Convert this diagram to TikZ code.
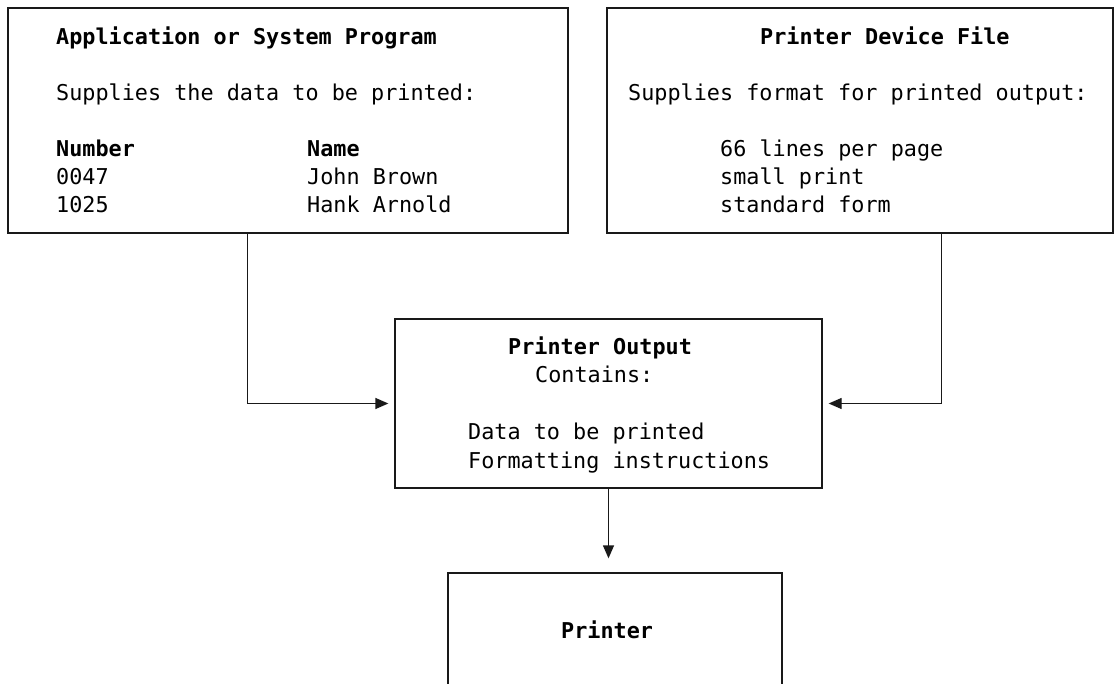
\documentclass[tikz,border=0pt]{standalone}
\usepackage{fontspec}
\setmonofont{DejaVu Sans Mono}
\usetikzlibrary{arrows.meta}

\tikzset{
  box/.style={draw=black!90, line width=1.3pt, inner sep=0pt},
  line/.style={anchor=base west, inner sep=0pt, font=\ttfamily\fontsize{21.8}{28}\selectfont},
  head/.style={line, font=\ttfamily\bfseries\fontsize{21.8}{28}\selectfont},
  flow/.style={draw=black!90, line width=1.3pt, -{Triangle[length=13pt,width=11pt]}, shorten >=6pt}
}

\begin{document}
\begin{tikzpicture}[x=1pt,y=-1pt]
\useasboundingbox (0,0) rectangle (1117,684);

% Boxes
\node[box, minimum width=560pt, minimum height=225pt] (app) at (288,120.5) {};
\node[box, minimum width=506pt, minimum height=225pt] (dev) at (860,120.5) {};
\node[box, minimum width=427pt, minimum height=169pt] (out) at (608.5,403.5) {};
\node[box, minimum width=334pt, minimum height=118pt] (prn) at (615,632) {};

% Application or system program
\node[head] (apptitle) at (56,45) {Application or System Program};
\node[line] (appnote) at (56,101) {Supplies the data to be printed:};
\node[head] (numhead) at (56,157) {Number};
\node[head] (namehead) at (307,157) {Name};
\node[line] (num1) at (56,185) {0047};
\node[line] (name1) at (307,185) {John Brown};
\node[line] (num2) at (56,213) {1025};
\node[line] (name2) at (307,213) {Hank Arnold};

% Printer device file
\node[head] (devtitle) at (760,45) {Printer Device File};
\node[line] (devnote) at (628,101) {Supplies format for printed output:};
\node[line] (fmt1) at (720,157) {66 lines per page};
\node[line] (fmt2) at (720,185) {small print};
\node[line] (fmt3) at (720,213) {standard form};

% Printer output
\node[head] (outtitle) at (508,355) {Printer Output};
\node[line] (outnote) at (535,383) {Contains:};
\node[line] (out1) at (468,440) {Data to be printed};
\node[line] (out2) at (468,468) {Formatting instructions};

% Printer
\node[head] (prntitle) at (561,638) {Printer};

% Flow
\draw[flow] ([xshift=240pt]app.south west) |- (out);
\draw[flow] ([xshift=335pt]dev.south west) |- (out);
\draw[flow, shorten >=14pt] (out.south) -- (out.south |- prn.north);
\end{tikzpicture}
\end{document}
